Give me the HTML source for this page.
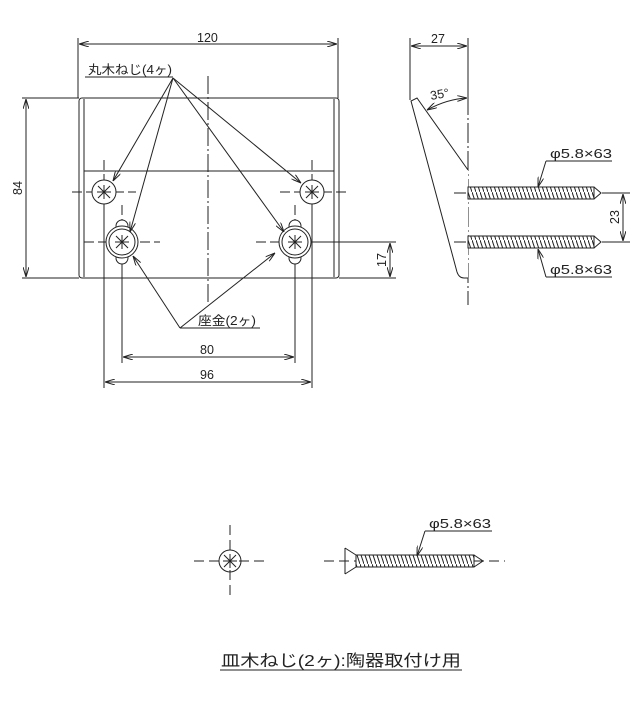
<!DOCTYPE html>
<html><head><meta charset="utf-8"><style>
body{margin:0;background:#fff}
svg{display:block}
text{font-family:"Liberation Sans","Noto Sans CJK JP",sans-serif;fill:#222}
</style></head><body>
<svg width="639" height="708" viewBox="0 0 639 708" xmlns="http://www.w3.org/2000/svg">
<defs>
<marker id="a" viewBox="0 0 10 6" refX="10" refY="3" markerWidth="10" markerHeight="6" orient="auto-start-reverse" markerUnits="userSpaceOnUse"><path d="M0,0 L10,3 L0,6" fill="none" stroke="#222" stroke-width="1"/></marker>
<pattern id="th" width="4" height="12" patternUnits="userSpaceOnUse"><rect width="4" height="12" fill="#fff"/><path d="M0,0 L4,12" stroke="#222" stroke-width="1"/></pattern>
</defs>
<g stroke="#222" stroke-width="1" fill="none">
<rect x="79" y="98" width="260" height="180" rx="3"/>
<line x1="84" y1="99" x2="84" y2="277"/><line x1="334" y1="99" x2="334" y2="277"/>
<line x1="84" y1="171" x2="334" y2="171"/>
<line x1="78" y1="38" x2="78" y2="98"/><line x1="338" y1="38" x2="338" y2="98"/>
<line x1="79" y1="44" x2="337" y2="44" marker-start="url(#a)" marker-end="url(#a)"/>
<line x1="22" y1="98" x2="79" y2="98"/><line x1="22" y1="278" x2="79" y2="278"/>
<line x1="26" y1="99" x2="26" y2="277" marker-start="url(#a)" marker-end="url(#a)"/>
<line x1="313" y1="242" x2="396" y2="242"/><line x1="339" y1="278" x2="396" y2="278"/>
<line x1="390" y1="243" x2="390" y2="277" marker-start="url(#a)" marker-end="url(#a)"/>
<line x1="122" y1="258" x2="122" y2="363"/><line x1="295" y1="258" x2="295" y2="363"/>
<line x1="104" y1="204" x2="104" y2="388"/><line x1="312" y1="204" x2="312" y2="388"/>
<line x1="123" y1="357" x2="294" y2="357" marker-start="url(#a)" marker-end="url(#a)"/>
<line x1="105" y1="382" x2="311" y2="382" marker-start="url(#a)" marker-end="url(#a)"/>
<line x1="208" y1="76" x2="208" y2="303" stroke-dasharray="18,3,2,3"/>
<line x1="72" y1="192" x2="136" y2="192" stroke-dasharray="10,4"/>
<line x1="280" y1="192" x2="346" y2="192" stroke-dasharray="10,4"/>
<line x1="104" y1="160" x2="104" y2="204" stroke-dasharray="10,4"/>
<line x1="312" y1="160" x2="312" y2="204" stroke-dasharray="10,4"/>
<line x1="84" y1="242" x2="160" y2="242" stroke-dasharray="10,4"/>
<line x1="256" y1="242" x2="313" y2="242" stroke-dasharray="10,4"/>
<line x1="122" y1="205" x2="122" y2="226" stroke-dasharray="10,4"/>
<line x1="295" y1="205" x2="295" y2="226" stroke-dasharray="10,4"/>
<circle cx="104" cy="192" r="12" fill="#fff"/>
<circle cx="312" cy="192" r="12" fill="#fff"/>
<path d="M98,186 L110,198 M98,198 L110,186 M104,185 L104,199 M97,192 L111,192"/>
<path d="M306,186 L318,198 M306,198 L318,186 M312,185 L312,199 M305,192 L319,192"/>
<g fill="#fff">
<circle cx="122" cy="226" r="6"/><circle cx="122" cy="258" r="6"/>
<circle cx="295" cy="226" r="6"/><circle cx="295" cy="258" r="6"/>
<circle cx="122" cy="242" r="16"/><circle cx="295" cy="242" r="16"/>
</g>
<circle cx="122" cy="242" r="13"/><circle cx="295" cy="242" r="13"/>
<path d="M116,236 L128,248 M116,248 L128,236 M122,235 L122,249 M115,242 L129,242"/>
<path d="M289,236 L301,248 M289,248 L301,236 M295,235 L295,249 M288,242 L302,242"/>
<line x1="85" y1="77" x2="173" y2="77"/>
<line x1="173" y1="78" x2="113" y2="181" marker-end="url(#a)"/>
<line x1="173" y1="78" x2="130" y2="232" marker-end="url(#a)"/>
<line x1="173" y1="78" x2="301" y2="183" marker-end="url(#a)"/>
<line x1="173" y1="78" x2="284" y2="232" marker-end="url(#a)"/>
<line x1="180" y1="328" x2="260" y2="328"/>
<line x1="180" y1="328" x2="133" y2="256" marker-end="url(#a)"/>
<line x1="180" y1="328" x2="275" y2="253" marker-end="url(#a)"/>
<line x1="468" y1="95" x2="468" y2="305" stroke-dasharray="20,3,2,3"/>
<line x1="410" y1="38" x2="410" y2="100"/><line x1="468" y1="38" x2="468" y2="95"/>
<line x1="411" y1="46" x2="467" y2="46" marker-start="url(#a)" marker-end="url(#a)"/>
<path d="M427,110 Q447,99 467,98" marker-start="url(#a)" marker-end="url(#a)"/>
<path d="M468,170 L417,98 L411,101 L457,272 Q459,278 464,278 L468,278" fill="#fff"/>
<rect x="468" y="187" width="126" height="12" fill="url(#th)"/>
<path d="M594,187 L601,193 L594,199"/>
<rect x="468" y="236" width="126" height="12" fill="url(#th)"/>
<path d="M594,236 L601,242 L594,248"/>
<line x1="454" y1="193" x2="466" y2="193"/><line x1="454" y1="242" x2="466" y2="242"/>
<line x1="602" y1="193" x2="630" y2="193"/><line x1="602" y1="242" x2="630" y2="242"/>
<line x1="623" y1="194" x2="623" y2="241" marker-start="url(#a)" marker-end="url(#a)"/>
<line x1="546" y1="161" x2="612" y2="161"/>
<line x1="546" y1="161" x2="538" y2="187" marker-end="url(#a)"/>
<line x1="546" y1="277" x2="612" y2="277"/>
<line x1="546" y1="277" x2="538" y2="249" marker-end="url(#a)"/>
<circle cx="230" cy="561" r="11"/>
<path d="M224,555 L236,567 M224,567 L236,555 M230,554 L230,568 M223,561 L237,561"/>
<line x1="194" y1="561" x2="265" y2="561" stroke-dasharray="10,5"/>
<line x1="230" y1="525" x2="230" y2="595" stroke-dasharray="10,5"/>
<line x1="324" y1="561" x2="505" y2="561" stroke-dasharray="10,5"/>
<path d="M345,548 L345,574 M345,548 L356,555 M345,574 L356,567"/>
<rect x="356" y="555" width="118" height="12" fill="url(#th)"/>
<path d="M474,555 L483,561 L474,567"/>
<line x1="425" y1="531" x2="492" y2="531"/>
<line x1="425" y1="531" x2="417" y2="556" marker-end="url(#a)"/>
<line x1="220" y1="670" x2="462" y2="670"/>
</g>
<g font-size="12.5">
<text x="197" y="42">120</text>
<text x="431" y="43">27</text>
<text x="431" y="100" transform="rotate(-10 431 100)">35°</text>
<text x="88" y="74" textLength="84" lengthAdjust="spacingAndGlyphs">丸木ねじ(4ヶ)</text>
<text x="198" y="325" textLength="58" lengthAdjust="spacingAndGlyphs">座金(2ヶ)</text>
<text x="200" y="354">80</text>
<text x="200" y="379">96</text>
<text x="550" y="158" textLength="62" lengthAdjust="spacingAndGlyphs">φ5.8×63</text>
<text x="550" y="274" textLength="62" lengthAdjust="spacingAndGlyphs">φ5.8×63</text>
<text x="429" y="528" textLength="62" lengthAdjust="spacingAndGlyphs">φ5.8×63</text>
<text transform="translate(22,188) rotate(-90)" text-anchor="middle">84</text>
<text transform="translate(386,260) rotate(-90)" text-anchor="middle">17</text>
<text transform="translate(619,217) rotate(-90)" text-anchor="middle">23</text>
<text x="221" y="666" font-size="16" textLength="240" lengthAdjust="spacingAndGlyphs">皿木ねじ(2ヶ):陶器取付け用</text>
</g>
</svg>
</body></html>
